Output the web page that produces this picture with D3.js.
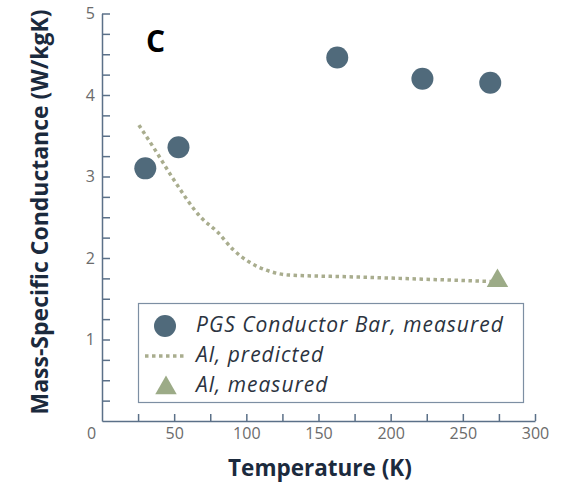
<!DOCTYPE html>
<meta charset="utf-8">
<style>
body { margin: 0; background: #fff; }
.tick text { fill: #6b6b6b; font-family: "Open Sans", sans-serif; font-size: 16px; }
.axis path, .axis line { stroke: #5b7088; stroke-width: 1.5px; }
.legend text { font-family: "Open Sans", sans-serif; font-style: italic; font-size: 21px; letter-spacing: 1px; fill: #2b3340; }
</style>
<svg width="567" height="482"></svg>
<script src="https://d3js.org/d3.v7.min.js"></script>
<script>

// PGS conductor bar, measured
var pgsTemp = [30, 53, 163, 222, 269];
var pgsVal  = [3.10, 3.36, 4.46, 4.20, 4.15];

// Al, predicted (dotted curve)
var alPredTemp = [25.6, 37, 49, 69, 80, 91, 102, 114, 130, 170, 206, 272];
var alPredVal  = [3.63, 3.32, 2.98, 2.49, 2.32, 2.10, 1.95, 1.85, 1.79, 1.77, 1.75, 1.71];

// Al, measured
var alMeasTemp = [274];
var alMeasVal  = [1.72];

var xTicks = [0, 50, 100, 150, 200, 250, 300];
var yTicks = [0, 1, 2, 3, 4, 5];

var svg = d3.select("svg");

var x = d3.scaleLinear().domain([0, 300]).range([102, 535]);
var y = d3.scaleLinear().domain([0, 5]).range([421, 13.5]);

// x axis, ticks pointing inward
var xAxis = svg.append("g")
    .attr("class", "axis")
    .attr("transform", "translate(0," + y(0) + ")")
    .call(d3.axisBottom(x).tickValues(d3.range(0, 301, 25)).tickSizeInner(-7).tickSizeOuter(0)
      .tickFormat(function(d) { return xTicks.indexOf(d) >= 0 ? d : ""; }));
xAxis.selectAll(".tick text").attr("y", 7).attr("dy", "0.71em");
xAxis.selectAll(".tick").filter(function(d) { return d == 0; }).select("line").remove();
xAxis.selectAll(".tick").filter(function(d) { return d == 0; }).select("text").attr("x", -11);

var yAxis = svg.append("g")
    .attr("class", "axis")
    .attr("transform", "translate(" + x(0) + ",0)")
    .call(d3.axisLeft(y).tickValues(d3.range(0.25, 5.01, 0.25)).tickSizeInner(-8).tickSizeOuter(0)
      .tickFormat(function(d) { return yTicks.indexOf(d) >= 0 ? d : ""; }));
yAxis.selectAll(".tick text").attr("x", -7);

// axis titles
svg.append("text")
    .attr("x", 320).attr("y", 476)
    .attr("text-anchor", "middle")
    .style("font-family", "'Open Sans', sans-serif")
    .style("font-weight", "bold").style("font-size", "22.5px")
    .style("fill", "#1b2a3d")
    .text("Temperature (K)");

svg.append("text")
    .attr("transform", "translate(48,212) rotate(-90)")
    .attr("text-anchor", "middle")
    .style("font-family", "'Open Sans', sans-serif")
    .style("font-weight", "bold").style("font-size", "23px")
    .style("fill", "#1b2a3d")
    .text("Mass-Specific Conductance (W/kgK)");

svg.append("text")
    .attr("x", 146).attr("y", 52)
    .style("font-family", "'Open Sans', sans-serif")
    .style("font-weight", "bold").style("font-size", "30px")
    .style("fill", "#000")
    .text("C");

// Al predicted curve
var predData = alPredTemp.map(function(t, i) { return [t, alPredVal[i]]; });
svg.append("path")
    .datum(predData)
    .attr("fill", "none")
    .attr("stroke", "#a9ad8e")
    .attr("stroke-width", 3.5)
    .attr("stroke-dasharray", "3.5,3.5")
    .attr("d", d3.line()
      .x(function(d) { return x(d[0]); })
      .y(function(d) { return y(d[1]); })
      .curve(d3.curveMonotoneX));

// PGS points
svg.selectAll(".pgs")
    .data(pgsTemp)
    .enter().append("circle")
    .attr("class", "pgs")
    .attr("cx", function(d) { return x(d); })
    .attr("cy", function(d, i) { return y(pgsVal[i]); })
    .attr("r", 11)
    .attr("fill", "#506a7b");

var tri = d3.symbol().type(d3.symbolTriangle).size(200);
svg.selectAll(".alm")
    .data(alMeasTemp)
    .enter().append("path")
    .attr("class", "alm")
    .attr("transform", function(d, i) { return "translate(" + x(d) + "," + y(alMeasVal[i]) + ")"; })
    .attr("d", tri)
    .attr("fill", "#9cab87");

// legend
var legend = svg.append("g").attr("class", "legend");
legend.append("rect")
    .attr("x", 138.5).attr("y", 303.5).attr("width", 385).attr("height", 99)
    .attr("fill", "#fff").attr("stroke", "#7d8fa3").attr("stroke-width", 1.2);
legend.append("circle").attr("cx", 165).attr("cy", 326).attr("r", 11).attr("fill", "#506a7b");
legend.append("line").attr("x1", 145).attr("x2", 186).attr("y1", 356).attr("y2", 356)
    .attr("stroke", "#a9ad8e").attr("stroke-width", 3.5).attr("stroke-dasharray", "3.5,3.5");
legend.append("path").attr("transform", "translate(166,388)").attr("d", tri).attr("fill", "#9cab87");
legend.append("text").attr("x", 196).attr("y", 332).text("PGS Conductor Bar, measured");
legend.append("text").attr("x", 196).attr("y", 362).text("Al, predicted");
legend.append("text").attr("x", 196).attr("y", 392).text("Al, measured");

</script>
